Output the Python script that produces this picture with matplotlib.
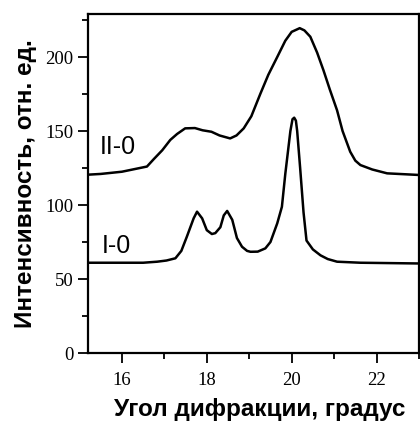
import matplotlib
matplotlib.use("Agg")
import matplotlib.pyplot as plt
from matplotlib.ticker import MultipleLocator

# кривая I-0
x1 = [15.2, 16.5, 16.83, 17.05, 17.26, 17.4, 17.53, 17.69, 17.77, 17.89, 18.0,
      18.12, 18.2, 18.32, 18.4, 18.48, 18.6, 18.71, 18.83, 18.95, 19.03, 19.2,
      19.38, 19.5, 19.66, 19.77, 19.85, 19.97, 20.02, 20.06, 20.1, 20.13, 20.2,
      20.28, 20.35, 20.5, 20.68, 20.85, 21.07, 21.62, 23.0]
y1 = [61, 61, 61.7, 62.5, 64, 69, 78.6, 91, 95.5, 91, 83,
      80.4, 81, 85, 93, 96, 90, 77.7, 71.8, 69, 68.4, 68.5,
      70.7, 75, 87.6, 98.8, 121, 150, 158, 159, 157, 150, 125,
      95, 76, 70, 66, 63.5, 61.7, 61, 60.5]

# кривая II-0
x2 = [15.2, 15.5, 16.0, 16.59, 16.75, 16.95, 17.14, 17.3, 17.49, 17.72, 17.9,
      18.11, 18.3, 18.55, 18.7, 18.87, 19.05, 19.26, 19.45, 19.66, 19.85, 20.0,
      20.19, 20.3, 20.44, 20.6, 20.75, 20.9, 21.07, 21.2, 21.38, 21.5, 21.62,
      21.9, 22.25, 23.0]
y2 = [120.5, 121, 122.5, 126, 131, 137, 144, 148, 151.8, 152, 150.5,
      149.5, 147, 145, 147, 151.8, 160, 175, 188, 200, 211, 217,
      219.5, 218, 213.7, 203, 191, 178, 164, 150, 136, 130, 127,
      124, 121.4, 120.3]

fig = plt.figure(figsize=(4.2, 4.21), dpi=100)
ax = fig.add_axes([0.2095, 0.1615, 0.788, 0.805])

ax.plot(x1, y1, color="k", lw=1.8)
ax.plot(x2, y2, color="k", lw=1.8)

ax.text(15.88, 72, "I-0", fontsize=18, family="Liberation Sans", ha="center", va="center")
ax.text(15.9, 139, "II-0", fontsize=18, family="Liberation Sans", ha="center", va="center")

ax.set_xlim(15.2, 23.0)
ax.set_ylim(0, 229)
ax.xaxis.set_major_locator(MultipleLocator(2))
ax.xaxis.set_minor_locator(MultipleLocator(1))
ax.yaxis.set_major_locator(MultipleLocator(50))
ax.yaxis.set_minor_locator(MultipleLocator(25))
ax.tick_params(which="both", direction="out", width=1.3, top=False, right=False)
ax.tick_params(which="major", length=7, labelsize=13.5)
ax.tick_params(axis="x", which="major", pad=7)
ax.tick_params(which="minor", length=4)
for lab in ax.get_xticklabels() + ax.get_yticklabels():
    lab.set_family("Liberation Serif")
for s in ax.spines.values():
    s.set_linewidth(1.6)

ax.set_xlabel("Угол дифракции, градус", fontsize=17.5, fontweight="bold",
              family="Liberation Sans", labelpad=6, x=0.518)
ax.set_ylabel("Интенсивность, отн. ед.", fontsize=17.5, fontweight="bold",
              family="Liberation Sans", labelpad=6)

fig.savefig("out.png", dpi=100)
